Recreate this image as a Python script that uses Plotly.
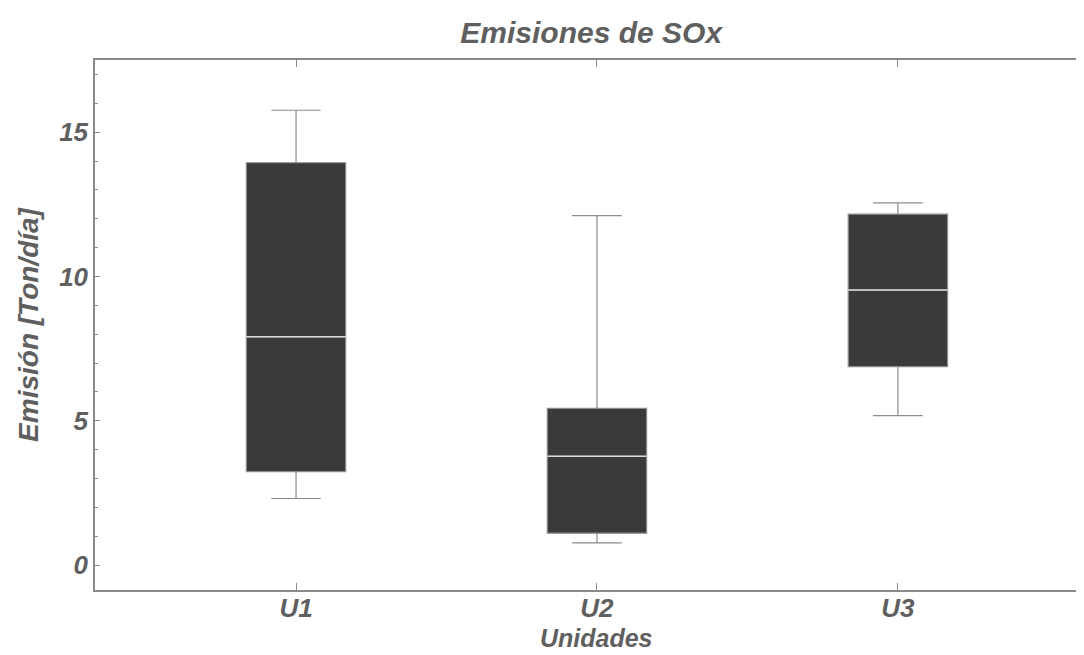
import plotly.graph_objects as go

categories = ["U1", "U2", "U3"]
positions = [1, 2, 3]
lower_whisker = [2.31, 0.77, 5.18]
q1_values = [3.24, 1.11, 6.88]
median_values = [7.91, 3.77, 9.53]
q3_values = [13.94, 5.43, 12.16]
upper_whisker = [15.76, 12.11, 12.55]
y_tick_values = [0, 5, 10, 15]

BOX_W = 0.33
text_color = "#5f5f5f"
frame_color = "#8a8a8a"
font_family = "Liberation Sans, Arial, sans-serif"

fig = go.Figure()
fig.add_trace(go.Box(
    x=positions,
    q1=q1_values,
    median=median_values,
    q3=q3_values,
    lowerfence=lower_whisker,
    upperfence=upper_whisker,
    width=BOX_W,
    whiskerwidth=0.5,
    fillcolor="#3a3a3a",
    line=dict(color="#8c8c8c", width=1.2),
    boxpoints=False,
    showlegend=False,
    hoverinfo="skip",
))

for p, m in zip(positions, median_values):
    fig.add_shape(type="line", xref="x", yref="y",
                  x0=p - BOX_W / 2, x1=p + BOX_W / 2, y0=m, y1=m,
                  line=dict(color="#d8d8d8", width=1.5), layer="above")

fig.add_annotation(text="<b><i>Unidades</i></b>", xref="x", x=2, yref="paper", y=0,
                   yshift=-48, yanchor="middle", xanchor="center", showarrow=False,
                   font=dict(size=25, color=text_color, family=font_family))

fig.update_layout(
    width=1084, height=655,
    margin=dict(l=87, r=0, t=52, b=73),
    paper_bgcolor="white", plot_bgcolor="white",
    font=dict(family=font_family, color=text_color),
    title=dict(text="<b><i>Emisiones de SOx</i></b>", x=0.538, xanchor="center",
               y=1 - 24 / 655, yref="container", yanchor="middle",
               font=dict(size=30, color=text_color, family=font_family)),
)

fig.update_xaxes(
    range=[0.332, 3.645],
    tickvals=positions,
    ticktext=[f"<b><i>{c}</i></b>" for c in categories],
    tickfont=dict(size=26, color=text_color),
    ticklabelstandoff=-6,
    ticks="inside", ticklen=7, tickcolor=frame_color, tickwidth=1,
    showline=True, linecolor=frame_color, linewidth=1.5, mirror="ticks",
    showgrid=False, zeroline=False,
)

fig.update_yaxes(
    range=[-0.86, 17.5],
    tickvals=y_tick_values,
    ticktext=[f"<b><i>{v}</i></b>" for v in y_tick_values],
    tickfont=dict(size=26, color=text_color),
    ticks="inside", ticklen=5, tickcolor=frame_color, tickwidth=1,
    minor=dict(dtick=1, tick0=0, ticks="inside", ticklen=3, tickcolor=frame_color),
    showline=True, linecolor=frame_color, linewidth=1.5, mirror=False,
    showgrid=False, zeroline=False,
    title=dict(text="<b><i>Emisión [Ton/día]</i></b>", font=dict(size=28, color=text_color), standoff=12),
)

fig.write_html("out.html")
